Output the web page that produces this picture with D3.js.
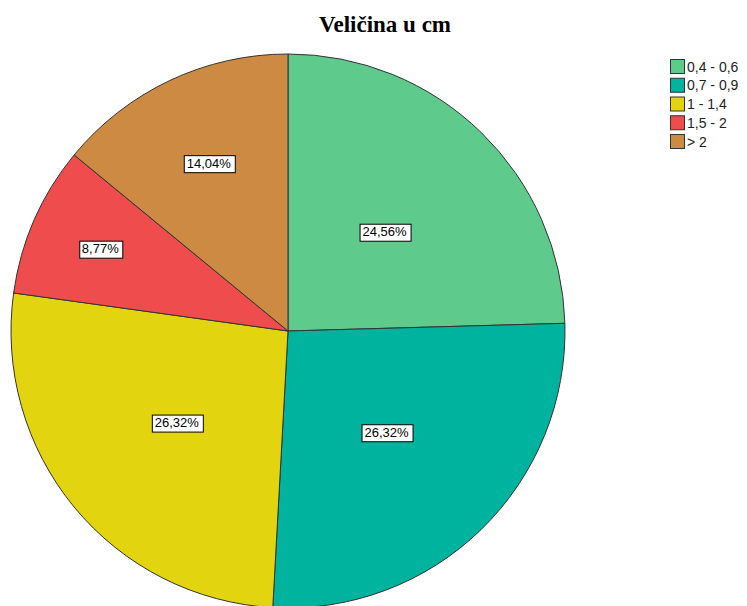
<!DOCTYPE html>
<html>
<head>
<meta charset="utf-8">
<script src="https://cdn.jsdelivr.net/npm/d3@7"></script>
<style>
  body { margin: 0; background: #fff; }
  svg { display: block; }
</style>
</head>
<body>
<div id="chart"></div>
<script>
// pie of size groups (cm)
var categories = ["0,4 - 0,6", "0,7 - 0,9", "1 - 1,4", "1,5 - 2", "> 2"];
var percents = [24.56, 26.32, 26.32, 8.77, 14.04];
var colors = ["#5ecb8c", "#00b39e", "#e2d50f", "#ee4c4d", "#cd8a43"];

var svgWidth = 747;
var svgHeight = 606;

var svg = d3.select("#chart")
  .append("svg")
  .attr("width", svgWidth)
  .attr("height", svgHeight);

// title
svg.append("text")
  .attr("x", 385)
  .attr("y", 32)
  .attr("text-anchor", "middle")
  .style("font-family", "'Liberation Serif', 'Times New Roman', serif")
  .style("font-weight", "bold")
  .style("font-size", "23px")
  .text("Veličina u cm");

var cx = 288, cy = 331, radius = 277;

// small slices get their label pushed outwards (like the original)
var labelRadius = [0.50, 0.51, 0.52, 0.74, 0.67];

var pie = d3.pie().sort(null).value(d => d);
var arcs = pie(percents);

var arc = d3.arc().innerRadius(0).outerRadius(radius);

var pieGroup = svg.append("g")
  .attr("transform", `translate(${cx}, ${cy})`);

pieGroup.selectAll("path")
  .data(arcs)
  .enter()
  .append("path")
  .attr("d", arc)
  .attr("fill", (d, i) => colors[i])
  .attr("stroke", "#333")
  .attr("stroke-width", 1);

// percent labels in boxes
var labels = pieGroup.selectAll(".lbl")
  .data(arcs)
  .enter()
  .append("g")
  .attr("class", "lbl")
  .attr("transform", (d, i) => {
    var r = radius * labelRadius[i];
    var c = d3.arc().innerRadius(r).outerRadius(r).centroid(d);
    return `translate(${c})`;
  });

labels.append("text")
  .attr("text-anchor", "middle")
  .attr("dy", "0.35em")
  .style("font-family", "'Liberation Sans', Arial, sans-serif")
  .style("font-size", "13px")
  .attr("fill", "#000")
  .text(d => d.data.toFixed(2).replace(".", ",") + "%");

labels.each(function() {
  var g = d3.select(this);
  var bb = g.select("text").node().getBBox();
  g.insert("rect", "text")
    .attr("x", Math.round(bb.x) - 3 + 0.5)
    .attr("y", Math.round(bb.y) - 1 + 0.5)
    .attr("width", Math.round(bb.width) + 6)
    .attr("height", Math.round(bb.height) + 2)
    .attr("fill", "#fff")
    .attr("stroke", "#000")
    .attr("stroke-width", 1);
});

// legend
var legend = svg.append("g")
  .attr("transform", "translate(670, 59)");

var rows = legend.selectAll(".row")
  .data(categories)
  .enter()
  .append("g")
  .attr("class", "row")
  .attr("transform", (d, i) => `translate(0, ${i * 18.75})`);

rows.append("rect")
  .attr("x", 0.5)
  .attr("y", 0.5)
  .attr("width", 14)
  .attr("height", 14)
  .attr("fill", (d, i) => colors[i])
  .attr("stroke", "#333");

rows.append("text")
  .attr("x", 17)
  .attr("y", 12.5)
  .style("font-family", "'Liberation Sans', Arial, sans-serif")
  .style("font-size", "14px")
  .attr("fill", "#222")
  .text(d => d);
</script>
</body>
</html>
